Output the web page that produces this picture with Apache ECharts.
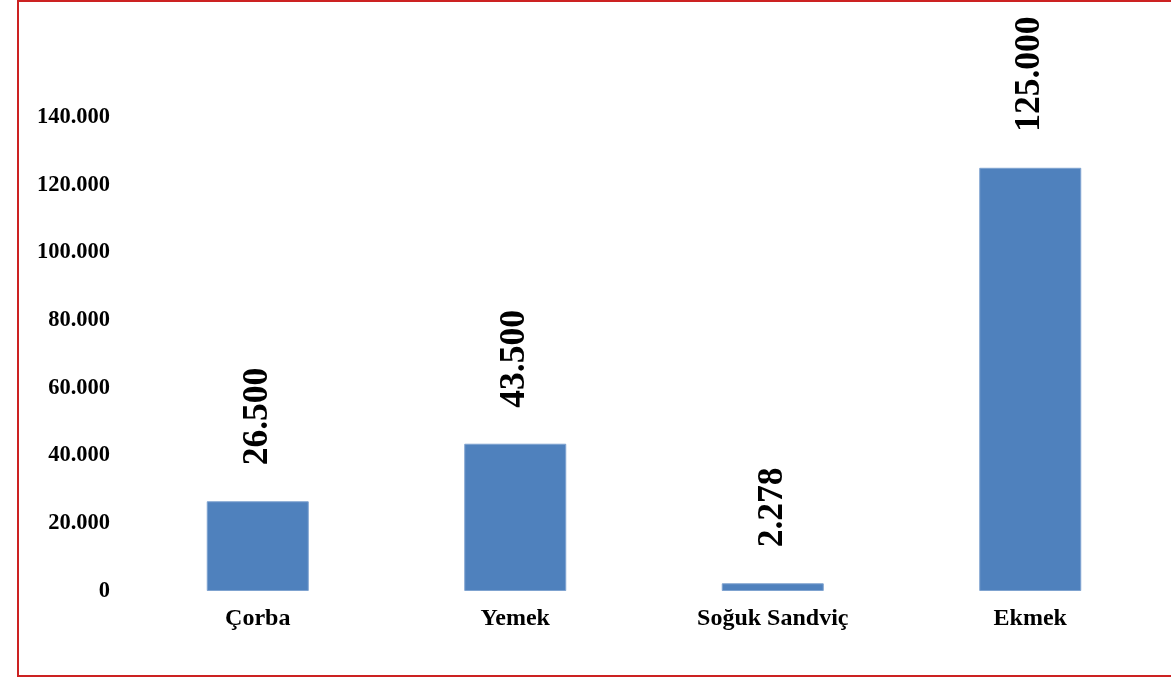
<!DOCTYPE html>
<html><head><meta charset="utf-8">
<script src="https://cdn.jsdelivr.net/npm/echarts@6/dist/echarts.min.js"></script>
<style>html,body{margin:0;padding:0;background:#fff}#c{width:1171px;height:679px}</style>
</head><body><div id="c"></div>
<script>
const categories = ['Çorba', 'Yemek', 'Soğuk Sandviç', 'Ekmek'];
const values = [26500, 43500, 2278, 125000];
const yMin = 0, yMax = 140000, yStep = 20000;

function trFmt(v) {
  return String(Math.round(v)).replace(/\B(?=(\d{3})+(?!\d))/g, '.');
}
const FONT = 'Liberation Serif';
const chart = echarts.init(document.getElementById('c'), null, {renderer: 'canvas'});
chart.setOption({
  animation: false,
  backgroundColor: '#fff',
  graphic: [{
    type: 'rect', silent: true, z: 100,
    shape: {x: 18, y: 1, width: 1200, height: 675},
    style: {fill: 'none', stroke: '#cc2222', lineWidth: 2}
  }],
  grid: {left: 129, right: 12, top: 117, bottom: 88, containLabel: false},
  xAxis: {
    type: 'category', data: categories,
    axisLine: {show: false}, axisTick: {show: false},
    axisLabel: {fontFamily: FONT, fontWeight: 'bold', fontSize: 24, color: '#000', margin: 16}
  },
  yAxis: {
    type: 'value', min: yMin, max: yMax, interval: yStep,
    axisLine: {show: false}, axisTick: {show: false}, splitLine: {show: false},
    axisLabel: {fontFamily: FONT, fontWeight: 'bold', fontSize: 22.5, color: '#000', margin: 19,
      formatter: v => trFmt(v)}
  },
  series: [{
    type: 'bar', data: values, barWidth: 102,
    itemStyle: {color: '#4F81BD', borderColor: '#7FA3D0', borderWidth: 1},
    label: {
      show: true, position: 'top', rotate: 90, distance: 36, align: 'left', verticalAlign: 'middle',
      fontFamily: FONT, fontWeight: 'bold', fontSize: 35.5, color: '#000',
      formatter: p => trFmt(p.value)
    }
  }]
});
</script></body></html>
